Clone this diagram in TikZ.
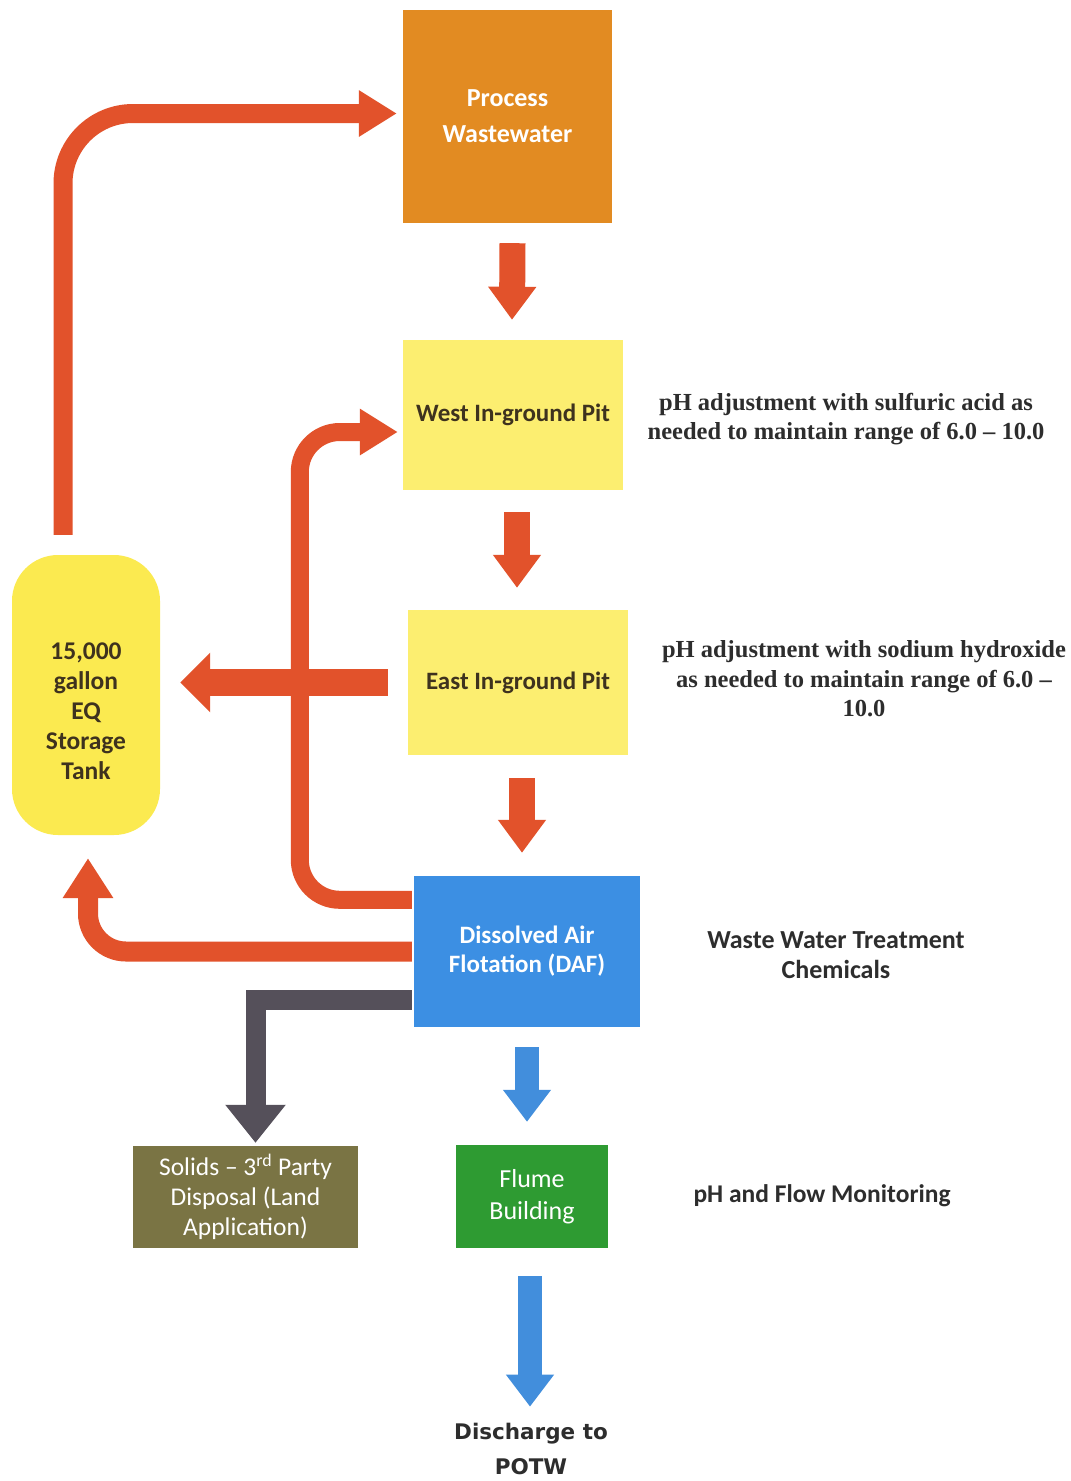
\documentclass[tikz,border=0pt]{standalone}
\usepackage{fontspec}
\setmainfont{Carlito}
\newfontfamily\serifb{Liberation Serif}[Ligatures=TeX]
\newfontfamily\dejab{DejaVu Sans}
\usetikzlibrary{arrows.meta,calc}
\definecolor{orangec}{RGB}{226,139,34}
\definecolor{yellowc}{RGB}{252,238,112}
\definecolor{tankc}{RGB}{251,234,80}
\definecolor{bluec}{RGB}{60,143,227}
\definecolor{greenc}{RGB}{46,155,50}
\definecolor{olivec}{RGB}{122,116,68}
\definecolor{redc}{RGB}{226,82,43}
\definecolor{blarrc}{RGB}{66,142,220}
\definecolor{grayc}{RGB}{85,80,90}
\definecolor{darkc}{RGB}{62,50,30}
\definecolor{notec}{RGB}{45,45,45}
\begin{document}
\begin{tikzpicture}[x=1pt,y=-1pt,
  box/.style={rectangle, inner sep=0pt, align=center},
  boxtxt/.style 2 args={font=\bfseries\fontsize{#1}{#2}\selectfont},
  note/.style={align=center, text=notec, font=\serifb\bfseries\fontsize{24.5}{29.5}\selectfont},
  redarrow/.style={draw=redc, line width=26pt, -{Triangle[width=46pt,length=33pt]}},
  bluearrow/.style={draw=blarrc, line width=24pt, -{Triangle[width=46pt,length=32pt]}},
  bentred/.style={draw=redc, line width=19pt, rounded corners=38pt, -{Triangle[width=44pt,length=38pt]}}
]
\fill[white] (0,0) rectangle (1071,1481);
\useasboundingbox (0,0) rectangle (1071,1481);

% boxes
\node[box, fill=orangec, minimum width=209pt, minimum height=213pt, text=white, boxtxt={26}{36}] (pw) at (507.5,116.5) {Process\\Wastewater};
\node[box, fill=yellowc, minimum width=220pt, minimum height=150pt, text=darkc, boxtxt={25}{28}] (west) at (513,415) {West In-ground Pit};
\node[box, fill=yellowc, minimum width=220pt, minimum height=145pt, text=darkc, boxtxt={25}{28}] (east) at (518,682.5) {East In-ground Pit};
\node[box, fill=bluec, minimum width=226pt, minimum height=151pt, text=white, boxtxt={25}{29}] (daf) at (527,951.5) {Dissolved Air\\Flotation (DAF)};
\node[box, fill=greenc, minimum width=152pt, minimum height=103pt, text=white, font=\fontsize{26}{32}\selectfont] (flume) at (532,1196.5) {Flume\\Building};
\node[box, fill=olivec, minimum width=225pt, minimum height=102pt, text=white, font=\fontsize{25.5}{30}\selectfont] (solids) at (245.5,1197) {Solids – 3\textsuperscript{rd} Party\\Disposal (Land\\Application)};
\node[box, fill=tankc, rounded corners=46pt, minimum width=148pt, minimum height=280pt, text=darkc, boxtxt={25.5}{30}] (tank) at (86,695) {\rule{0pt}{50pt}15,000\\gallon\\EQ\\Storage\\Tank};

% text labels
\node[note] (n1) at (846,419) {pH adjustment with sulfuric acid as\\needed to maintain range of 6.0 – 10.0};
\node[note] (n2) at (864,679) {pH adjustment with sodium hydroxide\\as needed to maintain range of 6.0 –\\10.0};
\node[align=center, text=notec, font=\bfseries\fontsize{26}{30}\selectfont] (n3) at (836,955) {Waste Water Treatment\\Chemicals};
\node[align=center, text=notec, font=\bfseries\fontsize{25.5}{30}\selectfont] (n4) at (822,1196) {pH and Flow Monitoring};
\node[align=center, text=notec, font=\dejab\bfseries\fontsize{21.5}{35}\selectfont] (dis) at (531,1449) {Discharge to\\POTW};

% straight arrows
\draw[redarrow] ($(pw.south)+(5pt,-20pt)$) -- ($(west.north)+(-1pt,20pt)$);
\draw[redarrow] ($(west.south)+(4pt,-22pt)$) -- ($(east.north)+(-1pt,22pt)$);
\draw[redarrow] ($(east.south)+(4pt,-23pt)$) -- ($(daf.north)+(-5pt,23pt)$);
\draw[bluearrow] ($(daf.south)+(0pt,-20pt)$) -- ($(flume.north)+(-5pt,23pt)$);
\draw[bluearrow] ($(flume.south)+(-2pt,-28pt)$) -- ($(dis.north)+(-1pt,13pt)$);

% east pit to tank
\draw[draw=redc, line width=27pt, -{Triangle[width=58pt,length=30pt]}]
  ($(east.west)+(-20pt,0pt)$) -- ($(tank.east |- east.west)+(20pt,0pt)$);

% tank to process wastewater
\draw[bentred, rounded corners=70pt] ($(tank.north)+(-23pt,20pt)$) |- ($(pw.west)+(-6pt,3pt)$);

% DAF back to west pit
\draw[bentred, line width=18pt, rounded corners=40pt] ($(daf.north west)+(-2pt,-24pt)$) -- ++(-112pt,0pt) |- ($(west.west)+(-5pt,-17pt)$);

% DAF to tank
\draw[bentred, line width=20pt, -{Triangle[width=48pt,length=40pt]}] ($(daf.west)+(-2pt,0pt)$) -| ($(tank.south)+(2pt,-23pt)$);

% DAF to solids
\draw[draw=grayc, line width=20pt, -{Triangle[width=58pt,length=38pt]}]
  ($(daf.south west)+(-2pt,27pt)$) -| ($(solids.north)+(10pt,3pt)$);
\end{tikzpicture}
\end{document}
